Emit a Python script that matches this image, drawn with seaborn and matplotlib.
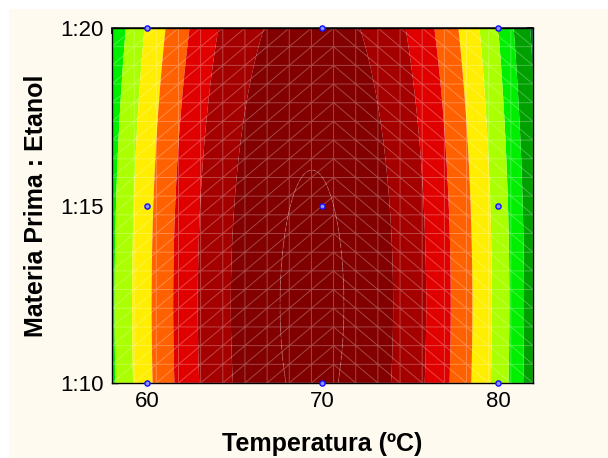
import numpy as np
import pandas as pd
import seaborn as sns
import matplotlib.pyplot as plt
import matplotlib.tri as mtri
from matplotlib.patches import Rectangle

# fitted response surface
t_center = 69.4      # temperature of the ridge
r_lin = 1.01         # linear term in ratio (relative to 1:10)
r_quad = -0.2295     # quadratic term in ratio
levels = [-200, -167.5, -145, -125.5, -104, -82.5, -61.5, -41.3, -20.3, -2.2, 5]
band_colors = ['#00663a', '#00a000', '#00ee00', '#aaff00', '#ffee00',
               '#ff6000', '#e00000', '#a40000', '#820000', '#800000']

# experimental design points
design_t = [60, 70, 80, 60, 70, 80, 60, 70, 80]
design_r = [10, 10, 10, 15, 15, 15, 20, 20, 20]

x_ticks = [60, 70, 80]
y_ticks = [10, 15, 20]
y_tick_labels = ['1:10', '1:15', '1:20']
t_lim = (58, 82)
r_lim = (10, 20)
mesh_n = 20

sns.set_theme(style='ticks')
plt.rcParams['font.family'] = ['Liberation Sans', 'DejaVu Sans']
plt.rcParams.update({'text.color': 'black', 'axes.labelcolor': 'black',
                     'xtick.color': 'black', 'ytick.color': 'black'})

fig = plt.figure(figsize=(6.08, 4.58), dpi=100, facecolor='white')
fig.patches.append(Rectangle((9 / 608, 0), 1, 1 - 9 / 458, transform=fig.transFigure,
                             facecolor='#fffaf0', edgecolor='none', zorder=-10))
ax = fig.add_axes([112 / 608, 1 - 383 / 458, 421 / 608, 355 / 458])

tt, rr = np.meshgrid(np.linspace(*t_lim, 400), np.linspace(*r_lim, 300))
zz = -(tt - t_center) ** 2 + r_lin * (rr - 10) + r_quad * (rr - 10) ** 2
ax.contourf(tt, rr, zz, levels=levels, colors=band_colors, antialiased=True)
ax.contour(tt, rr, zz, levels=[levels[-2]], colors='white', alpha=0.18, linewidths=0.8)

# surface mesh
mt, mr = np.meshgrid(np.linspace(*t_lim, mesh_n), np.linspace(*r_lim, mesh_n))
tris = []
for i in range(mesh_n - 1):
    for j in range(mesh_n - 1):
        a = i * mesh_n + j
        b, c, d = a + 1, a + mesh_n, a + mesh_n + 1
        if j < 10:
            tris += [[a, b, d], [a, d, c]]
        else:
            tris += [[a, b, c], [b, d, c]]
tri = mtri.Triangulation(mt.ravel(), mr.ravel(), tris)
ax.triplot(tri, color='white', alpha=0.28, lw=0.7)

pts = pd.DataFrame({'t': design_t, 'r': design_r})
sns.scatterplot(data=pts, x='t', y='r', ax=ax, marker='o', s=14,
                color='#9090ff', edgecolor='#1010ff', linewidth=1, zorder=5, clip_on=False)

ax.set_xlim(*t_lim)
ax.set_ylim(*r_lim)
ax.set_xticks(x_ticks)
ax.set_yticks(y_ticks)
ax.set_yticklabels(y_tick_labels)
ax.tick_params(direction='in', length=4, width=1, color='black', labelsize=16, pad=6)

top = ax.secondary_xaxis('top')
top.set_xticks(np.arange(58, 83, 2))
top.tick_params(direction='in', length=4, labeltop=False)
right = ax.secondary_yaxis('right')
right.set_yticks(np.linspace(10, 20, 13))
right.tick_params(direction='in', length=4, labelright=False)

for sp in ax.spines.values():
    sp.set_color('black')
    sp.set_linewidth(1)

ax.set_xlabel('Temperatura (ºC)', fontsize=18, fontweight='bold', labelpad=14)
ax.set_ylabel('Materia Prima : Etanol', fontsize=18, fontweight='bold', labelpad=9)

fig.savefig('out.png', dpi=100, facecolor=fig.get_facecolor())
